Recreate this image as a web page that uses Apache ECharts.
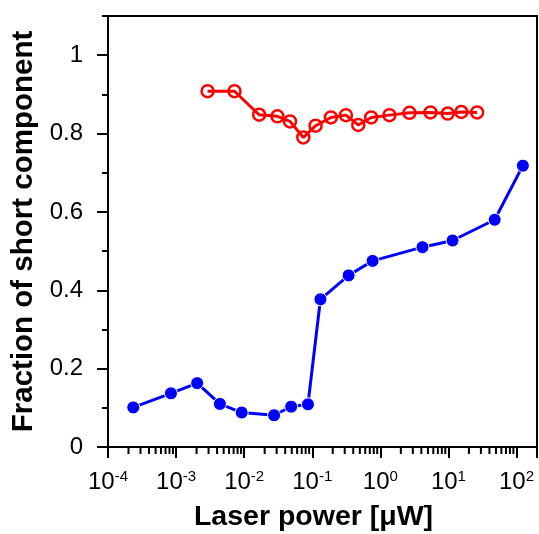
<!DOCTYPE html>
<html><head><meta charset="utf-8">
<script src="https://cdn.jsdelivr.net/npm/echarts@6/dist/echarts.min.js"></script>
<style>html,body{margin:0;padding:0;background:#fff}#c{width:539px;height:534px}</style>
</head><body><div id="c"></div>
<script>
// Data
const blueX = [2.35e-4, 8.4e-4, 2.04e-3, 4.4e-3, 9.2e-3, 0.0275, 0.049, 0.0865, 0.132, 0.342, 0.77, 4.16, 11.5, 47.8, 124];
const blueY = [0.101, 0.137, 0.163, 0.110, 0.088, 0.081, 0.103, 0.109, 0.377, 0.438, 0.475, 0.510, 0.527, 0.580, 0.718];
const redX = [2.9e-3, 7.2e-3, 0.0166, 0.0308, 0.0471, 0.0739, 0.112, 0.188, 0.312, 0.474, 0.734, 1.36, 2.68, 5.45, 9.77, 15.5, 26.4];
const redY = [0.908, 0.908, 0.848, 0.844, 0.831, 0.790, 0.820, 0.841, 0.847, 0.822, 0.841, 0.847, 0.853, 0.854, 0.851, 0.855, 0.854];
const xMin = 1e-4, xMax = 200;
const yMajorTicks = [0, 0.2, 0.4, 0.6, 0.8, 1.0];
const yMinorTicks = [0, 0.1, 0.2, 0.3, 0.4, 0.5, 0.6, 0.7, 0.8, 0.9, 1.0, 1.1];
const xMinorMult = [2, 3, 4, 5, 6, 7, 8, 9];
const xDecades = [-4, -3, -2, -1, 0, 1, 2];
const xTitle = 'Laser power [μW]';
const yTitle = 'Fraction of short component';

const FONT = "'Liberation Sans', Arial, sans-serif";
const xMinorVals = [];
xDecades.forEach(d => xMinorMult.forEach(m => {
  const v = m * Math.pow(10, d);
  if (v <= xMax) xMinorVals.push(v);
}));

const chart = echarts.init(document.getElementById('c'), null, {renderer: 'canvas'});
chart.setOption({
  animation: false,
  backgroundColor: '#fff',
  grid: {left: 108, right: 2, top: 16, bottom: 87, containLabel: false, outerBoundsMode: 'none',
    show: true, borderColor: '#000', borderWidth: 2, backgroundColor: 'transparent'},
  xAxis: [{
    type: 'log', min: xMin, max: xMax, logBase: 10,
    axisLine: {show: true, onZero: false, lineStyle: {color: '#000', width: 2}},
    axisTick: {show: true, length: 11, lineStyle: {color: '#000', width: 2}},
    splitLine: {show: false}, minorTick: {show: false},
    axisLabel: {
      margin: 22,
      formatter: function (v) {
        const e = Math.log10(v);
        if (Math.abs(e - Math.round(e)) > 1e-6) return '';
        return '{b|10}{s|' + Math.round(e) + '}';
      },
      rich: {
        b: {fontSize: 24, fontFamily: FONT, color: '#000', lineHeight: 26},
        s: {fontSize: 15, fontFamily: FONT, color: '#000', verticalAlign: 'top', lineHeight: 15}
      }
    },
    name: xTitle, nameLocation: 'middle', nameGap: 56,
    nameTextStyle: {fontSize: 28.5, fontWeight: 'bold', fontFamily: FONT, color: '#000', padding: [0, 18, 0, 0]}
  }],
  yAxis: [{
    type: 'value', min: 0, max: 1.1,
    axisLine: {show: true, onZero: false, lineStyle: {color: '#000', width: 2}},
    axisTick: {show: true, length: 11, lineStyle: {color: '#000', width: 2}, customValues: yMajorTicks},
    axisLabel: {customValues: yMajorTicks, margin: 25, fontSize: 24, fontFamily: FONT, color: '#000',
      formatter: v => (Math.round(v * 10) / 10).toString()},
    splitLine: {show: false},
    name: yTitle, nameLocation: 'middle', nameGap: 63, nameRotate: 90,
    nameTextStyle: {fontSize: 29.5, fontWeight: 'bold', fontFamily: FONT, color: '#000'}
  }, {
    type: 'value', min: 0, max: 1.1, position: 'left',
    axisLine: {show: false, onZero: false},
    axisTick: {show: true, length: 6, lineStyle: {color: '#000', width: 2}, customValues: yMinorTicks},
    axisLabel: {show: false}, splitLine: {show: false}
  }],
  series: [{
    type: 'line', xAxisIndex: 0, yAxisIndex: 0,
    data: blueX.map((x, i) => [x, blueY[i]]),
    symbol: 'circle', symbolSize: 13,
    lineStyle: {color: '#0000ff', width: 3},
    itemStyle: {color: '#0000ff', borderColor: '#ffffff', borderWidth: 1}
  }, {
    type: 'line', xAxisIndex: 0, yAxisIndex: 0,
    data: redX.map((x, i) => [x, redY[i]]),
    symbol: 'circle', symbolSize: 12,
    lineStyle: {color: '#ff0000', width: 3},
    itemStyle: {color: 'rgba(255,255,255,0)', borderColor: '#ff0000', borderWidth: 2.5}
  }]
});

// Minor log ticks on the x axis, positioned through the chart's own x scale
const yBottom = chart.convertToPixel({yAxisIndex: 0}, 0);
const minorTickEls = xMinorVals.map(v => {
  const x = chart.convertToPixel({xAxisIndex: 0}, v);
  return {type: 'line', z: 100, silent: true,
    shape: {x1: x, y1: yBottom, x2: x, y2: yBottom + 7},
    style: {stroke: '#000', lineWidth: 2}};
});
chart.setOption({graphic: {elements: minorTickEls}});
</script></body></html>
